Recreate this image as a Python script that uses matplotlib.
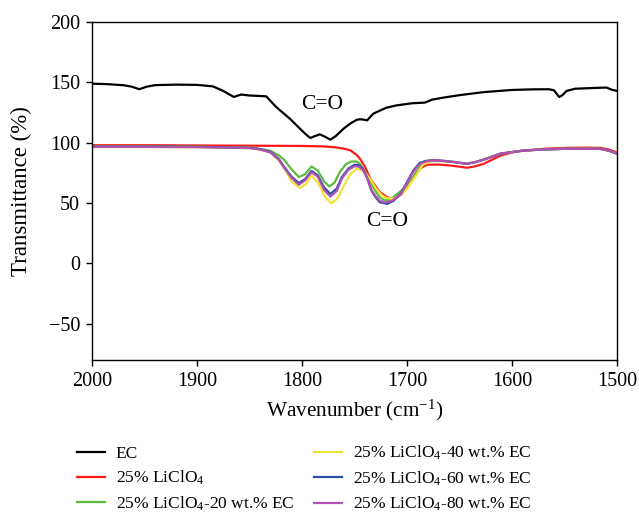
import matplotlib
matplotlib.use("Agg")
import matplotlib.pyplot as plt

plt.rcParams['font.family'] = ['Liberation Serif', 'DejaVu Serif']
plt.rcParams['mathtext.fontset'] = 'custom'
plt.rcParams['mathtext.rm'] = 'Liberation Serif'
plt.rcParams['mathtext.it'] = 'Liberation Serif:italic'
plt.rcParams['mathtext.bf'] = 'Liberation Serif:bold'

# ---- data (wavenumber, transmittance) ----
ec_wn = [2000, 1985, 1970, 1962, 1955, 1948, 1940, 1920, 1900, 1885, 1875, 1865, 1858, 1850,
         1840, 1834, 1825, 1811, 1800, 1795, 1792, 1788, 1783, 1778, 1773, 1768, 1760, 1754,
         1748, 1745, 1741, 1738, 1732, 1720, 1710, 1695, 1683, 1676, 1665, 1650, 1627, 1600,
         1580, 1565, 1560, 1557, 1555, 1552, 1548, 1540, 1520, 1510, 1505, 1500]
ec_t = [149, 148.6, 147.7, 146.5, 144.4, 146.5, 147.8, 148.2, 148, 146.8, 143, 138, 140, 139.2,
        138.8, 138.5, 130, 119.5, 110, 106, 104, 105.5, 107, 105, 102.6, 105.5, 112, 116,
        119, 119.5, 119.2, 118.6, 124.2, 129, 131, 132.8, 133.3, 135.8, 137.5, 139.5, 142, 143.8,
        144.3, 144.4, 143.5, 140, 138, 139.5, 143, 144.8, 145.5, 145.8, 144, 143]

li_wn = [2000, 1950, 1900, 1850, 1800, 1780, 1770, 1760, 1754, 1748, 1745, 1740, 1735, 1730,
         1726, 1720, 1716, 1710, 1705, 1700, 1695, 1691, 1686, 1681, 1670, 1659, 1650, 1643,
         1635, 1627, 1619, 1611, 1600, 1589, 1570, 1548, 1530, 1516, 1508, 1500]
li_t = [98, 98, 97.8, 97.6, 97.4, 97, 96.4, 95.2, 93.8, 90, 87, 80, 70.3, 64,
        59.3, 55.5, 53.8, 54.3, 57.5, 63.2, 70, 75.7, 79.5, 81.8, 82, 81.2, 80.2, 79.3,
        80.5, 82.6, 86, 89.4, 92, 93.5, 95, 95.8, 96, 95.8, 94.5, 92]

e20_wn = [2000, 1950, 1900, 1870, 1850, 1840, 1830, 1822, 1817, 1810, 1803, 1797, 1791, 1785,
          1779, 1774, 1769, 1764, 1758, 1753, 1748, 1745, 1740, 1735, 1730, 1726, 1722, 1719,
          1716, 1713, 1706, 1700, 1692, 1685, 1678, 1672, 1662, 1653, 1643, 1635, 1627, 1611,
          1590, 1570, 1550, 1530, 1516, 1508, 1500]
e20_t = [97, 97, 96.8, 96.3, 96, 95, 93.3, 89.5, 85.9, 78, 71.6, 74, 80.4, 77,
         68, 63.8, 67, 75.7, 82.5, 84.5, 84.5, 82.6, 76, 67.4, 60, 55, 52.6, 52.3,
         53, 55, 60, 64.7, 74, 84, 85.5, 85.4, 84.5, 84, 82.6, 84, 86, 91,
         93.5, 94.5, 95, 95, 95, 93.5, 91]

e40_wn = [2000, 1950, 1900, 1870, 1850, 1840, 1830, 1822, 1817, 1810, 1802, 1796, 1791, 1785,
          1778, 1772, 1766, 1760, 1754, 1748, 1744, 1740, 1735, 1730, 1725, 1721, 1716, 1712,
          1706, 1700, 1692, 1685, 1678, 1672, 1662, 1653, 1643, 1635, 1627, 1611,
          1590, 1570, 1550, 1530, 1516, 1508, 1500]
e40_t = [96.5, 96.5, 96.3, 96, 95.5, 94.5, 92, 85, 79.3, 68, 62.4, 66, 73, 67,
         55, 49.9, 54, 64.7, 74, 78.5, 77.5, 75.2, 70, 62.7, 57.5, 54.8, 53.8, 54,
         57, 62, 72, 81.8, 84.5, 85, 84.5, 84, 82.6, 84, 86, 91,
         93.5, 94.5, 95, 95, 95, 93.5, 91]

e60_wn = [2000, 1950, 1900, 1870, 1850, 1840, 1830, 1822, 1818, 1810, 1803, 1797, 1791, 1785,
          1779, 1773, 1767, 1762, 1756, 1750, 1746, 1742, 1738, 1734, 1730, 1726, 1719, 1713,
          1706, 1700, 1694, 1688, 1682, 1675, 1665, 1655, 1643, 1635, 1627, 1611,
          1590, 1570, 1550, 1530, 1516, 1508, 1500]
e60_t = [96.8, 96.8, 96.6, 96.2, 95.8, 94.8, 92.5, 86.5, 81.2, 72, 66.6, 70, 76.7, 73,
         63, 57.6, 62, 71.6, 78.5, 81.8, 81.5, 78.5, 71, 60.5, 55, 50.8, 49.4, 51.8,
         58, 67.4, 77, 83.3, 85, 85.5, 85, 84, 82.6, 84, 86, 91,
         93.5, 94.5, 95, 95, 95, 93.5, 91]

e80_wn = [2000, 1950, 1900, 1870, 1850, 1840, 1830, 1822, 1818, 1810, 1803, 1797, 1791, 1785,
          1779, 1773, 1767, 1762, 1756, 1750, 1746, 1742, 1738, 1734, 1730, 1726, 1721, 1714,
          1706, 1700, 1694, 1688, 1682, 1675, 1665, 1655, 1643, 1635, 1627, 1611,
          1590, 1570, 1550, 1530, 1516, 1508, 1500]
e80_t = [96.6, 96.6, 96.4, 96, 95.6, 94.5, 92, 86, 80.5, 71, 65.2, 69, 75.7, 72,
         61, 55.5, 60, 70.5, 77.5, 80.6, 80.3, 77.5, 71, 61, 56, 52, 50.5, 52,
         57.5, 66.5, 76, 82.5, 84.5, 85.5, 85, 84, 82.6, 84, 86, 91,
         93.5, 94.5, 95, 95, 95, 93.5, 91]

labels = ['EC', '25% LiClO$_4$', '25% LiClO$_4$-20 wt.% EC',
          '25% LiClO$_4$-40 wt.% EC', '25% LiClO$_4$-60 wt.% EC', '25% LiClO$_4$-80 wt.% EC']
colors = ['#000000', '#ff1a1a', '#5dbb3f', '#f2e23a', '#2b4fa8', '#b050b0']
y_ticks = [-50, 0, 50, 100, 150, 200]
x_ticks = [2000, 1900, 1800, 1700, 1600, 1500]

series = [(ec_wn, ec_t), (li_wn, li_t), (e20_wn, e20_t),
          (e40_wn, e40_t), (e60_wn, e60_t), (e80_wn, e80_t)]

fig = plt.figure(figsize=(6.39, 5.15), dpi=100)
ax = fig.add_axes([0.144, 0.301, 0.8216, 0.656])

handles = []
for (wn, t), lab, c in zip(series, labels, colors):
    h, = ax.plot(wn, t, color=c, lw=1.6, label=lab)
    handles.append(h)

ax.set_xlim(2000, 1500)
ax.set_ylim(-80, 200)
ax.set_xticks(x_ticks)
ax.set_yticks(y_ticks)
ax.tick_params(axis='both', direction='out', labelsize=14.5, length=4.5, width=1,
               top=False, right=False, pad=4)
for s in ax.spines.values():
    s.set_linewidth(1.0)
ax.set_xlabel('Wavenumber (cm$^{-1}$)', fontsize=15.3, labelpad=5)
ax.set_ylabel('Transmittance (%)', fontsize=16.5, labelpad=12)

ax.text(1781, 131.5, 'C=O', fontsize=15.5, ha='center', va='center')
ax.text(1719, 35, 'C=O', fontsize=15.5, ha='center', va='center')

# legend: column-major order matches reference
fig.legend(handles, labels, loc='upper left', bbox_to_anchor=(0.121, 0.138),
           ncol=2, frameon=False, fontsize=12.5, handlelength=1.6,
           handletextpad=0.6, labelspacing=0.40, columnspacing=1.17,
           borderaxespad=0, borderpad=0)

fig.savefig('out.png', dpi=100)
